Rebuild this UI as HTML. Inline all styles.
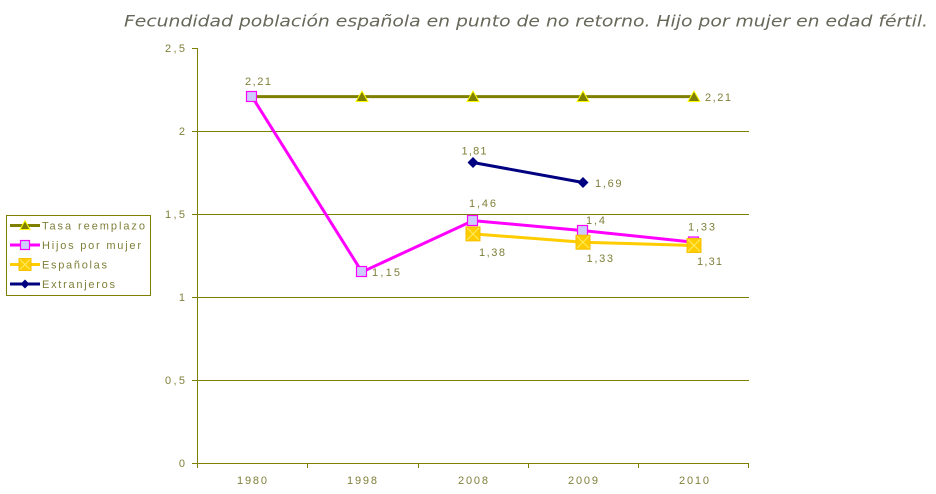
<!DOCTYPE html>
<html>
<head>
<meta charset="utf-8">
<style>
  html,body{margin:0;padding:0;background:#fff;}
  svg{display:block;}
  .t{fill:#7f7f3a;font-size:11px;font-family:"Liberation Sans", sans-serif;}
  .lg{fill:#7f7f3a;font-size:11px;font-family:"Liberation Sans", sans-serif;}
</style>
</head>
<body>
<svg width="936" height="494" viewBox="0 0 936 494" xmlns="http://www.w3.org/2000/svg">
  <!-- Title -->
  <text x="124" y="26.5" style="font-family:'DejaVu Sans', sans-serif;font-style:italic;font-size:16px;" fill="#67675a" textLength="804" lengthAdjust="spacingAndGlyphs">Fecundidad población española en punto de no retorno. Hijo por mujer en edad fértil.</text>

  <!-- Gridlines -->
  <g stroke="#808000" stroke-width="1">
    <line x1="197" y1="131.5" x2="749" y2="131.5"/>
    <line x1="197" y1="214.5" x2="749" y2="214.5"/>
    <line x1="197" y1="297.5" x2="749" y2="297.5"/>
    <line x1="197" y1="380.5" x2="749" y2="380.5"/>
    <!-- axes -->
    <line x1="197.5" y1="48" x2="197.5" y2="463"/>
    <line x1="197" y1="463.5" x2="749" y2="463.5"/>
    <!-- y ticks -->
    <line x1="192" y1="48.5" x2="197" y2="48.5"/>
    <line x1="192" y1="131.5" x2="197" y2="131.5"/>
    <line x1="192" y1="214.5" x2="197" y2="214.5"/>
    <line x1="192" y1="297.5" x2="197" y2="297.5"/>
    <line x1="192" y1="380.5" x2="197" y2="380.5"/>
    <line x1="192" y1="463.5" x2="197" y2="463.5"/>
    <!-- x ticks -->
    <line x1="197.5" y1="463" x2="197.5" y2="468"/>
    <line x1="307.5" y1="463" x2="307.5" y2="468"/>
    <line x1="418.5" y1="463" x2="418.5" y2="468"/>
    <line x1="528.5" y1="463" x2="528.5" y2="468"/>
    <line x1="638.5" y1="463" x2="638.5" y2="468"/>
    <line x1="748.5" y1="463" x2="748.5" y2="468"/>
  </g>

  <!-- Y labels -->
  <g class="t" text-anchor="end">
    <text x="185" y="52" textLength="20">2,5</text>
    <text x="185" y="135">2</text>
    <text x="185" y="218" textLength="20">1,5</text>
    <text x="185" y="301">1</text>
    <text x="185" y="384" textLength="20">0,5</text>
    <text x="185" y="467">0</text>
  </g>

  <!-- X labels -->
  <g class="t" text-anchor="middle">
    <text x="252" y="484" textLength="30">1980</text>
    <text x="362" y="484" textLength="30">1998</text>
    <text x="473" y="484" textLength="30">2008</text>
    <text x="583" y="484" textLength="30">2009</text>
    <text x="694" y="484" textLength="30">2010</text>
  </g>

  <!-- Tasa reemplazo -->
  <polyline points="252,96.6 362,96.6 473,96.6 583,96.6 694,96.6" fill="none" stroke="#808000" stroke-width="3"/>
  <g fill="#808000" stroke="#ffff00" stroke-width="1">
    <polygon points="362,91 368,101.5 356,101.5"/>
    <polygon points="473,91 479,101.5 467,101.5"/>
    <polygon points="583,91 589,101.5 577,101.5"/>
    <polygon points="694,91 700,101.5 688,101.5"/>
  </g>

  <!-- Hijos por mujer -->
  <polyline points="252,96.6 362,272 473,220.6 583,230.6 694,242.2" fill="none" stroke="#ff00ff" stroke-width="3"/>
  <g fill="#ccccff" stroke="#ff00ff" stroke-width="1.2">
    <rect x="246.5" y="91.5" width="10" height="10"/>
    <rect x="356.5" y="266.5" width="10" height="10"/>
    <rect x="467.5" y="215.5" width="10" height="10"/>
    <rect x="577.5" y="225.5" width="10" height="10"/>
    <rect x="688.5" y="237" width="10" height="10"/>
  </g>

  <!-- Españolas -->
  <polyline points="473,233.9 583,242.2 694,245.5" fill="none" stroke="#ffcc00" stroke-width="3"/>
  <g>
    <g transform="translate(473,233.9)">
      <rect x="-7" y="-7" width="14" height="14" fill="#ffcc00" stroke="#f5c000" stroke-width="1"/>
      <path d="M-6,-6 L6,6 M6,-6 L-6,6" stroke="#ffee66" stroke-width="1"/>
    </g>
    <g transform="translate(583,242.2)">
      <rect x="-7" y="-7" width="14" height="14" fill="#ffcc00" stroke="#f5c000" stroke-width="1"/>
      <path d="M-6,-6 L6,6 M6,-6 L-6,6" stroke="#ffee66" stroke-width="1"/>
    </g>
    <g transform="translate(694,245.5)">
      <rect x="-7" y="-7" width="14" height="14" fill="#ffcc00" stroke="#f5c000" stroke-width="1"/>
      <path d="M-6,-6 L6,6 M6,-6 L-6,6" stroke="#ffee66" stroke-width="1"/>
    </g>
  </g>

  <!-- Extranjeros -->
  <polyline points="473,162.5 583,182.5" fill="none" stroke="#000080" stroke-width="3"/>
  <g fill="#000080">
    <polygon points="473,157 478.5,162.5 473,168 467.5,162.5"/>
    <polygon points="583,177 588.5,182.5 583,188 577.5,182.5"/>
  </g>

  <!-- Data labels -->
  <g class="t">
    <text x="245" y="85" textLength="26">2,21</text>
    <text x="705" y="101" textLength="26">2,21</text>
    <text x="372" y="276" textLength="28">1,15</text>
    <text x="469" y="207" textLength="27">1,46</text>
    <text x="586" y="224" textLength="19">1,4</text>
    <text x="688" y="230.5" textLength="27">1,33</text>
    <text x="479" y="256" textLength="26">1,38</text>
    <text x="586.5" y="262" textLength="26.5">1,33</text>
    <text x="697" y="265" textLength="25">1,31</text>
    <text x="461.5" y="154.5" textLength="25">1,81</text>
    <text x="595" y="187" textLength="26.5">1,69</text>
  </g>

  <!-- Legend -->
  <rect x="6.5" y="215.5" width="144" height="80" fill="#fff" stroke="#808000" stroke-width="1"/>
  <!-- row 1 -->
  <line x1="10" y1="225.5" x2="40" y2="225.5" stroke="#808000" stroke-width="3"/>
  <polygon points="25,220.5 30,229.5 20,229.5" fill="#808000" stroke="#ffff00" stroke-width="1"/>
  <text class="lg" x="42" y="229.5" textLength="103">Tasa reemplazo</text>
  <!-- row 2 -->
  <line x1="10" y1="245" x2="40" y2="245" stroke="#ff00ff" stroke-width="3"/>
  <rect x="20.5" y="240.5" width="9" height="9" fill="#ccccff" stroke="#ff00ff" stroke-width="1.2"/>
  <text class="lg" x="42" y="249" textLength="99">Hijos por mujer</text>
  <!-- row 3 -->
  <line x1="10" y1="264.5" x2="40" y2="264.5" stroke="#ffcc00" stroke-width="3"/>
  <rect x="19" y="258.5" width="12" height="12" fill="#ffcc00" stroke="#f5c000" stroke-width="1"/>
  <path d="M20,259.5 L30,269.5 M30,259.5 L20,269.5" stroke="#ffee66" stroke-width="1"/>
  <text class="lg" x="42" y="268.5" textLength="65">Españolas</text>
  <!-- row 4 -->
  <line x1="10" y1="284" x2="40" y2="284" stroke="#000080" stroke-width="3"/>
  <polygon points="25,279.5 29.5,284 25,288.5 20.5,284" fill="#000080"/>
  <text class="lg" x="42" y="288" textLength="73">Extranjeros</text>
</svg>
</body>
</html>
